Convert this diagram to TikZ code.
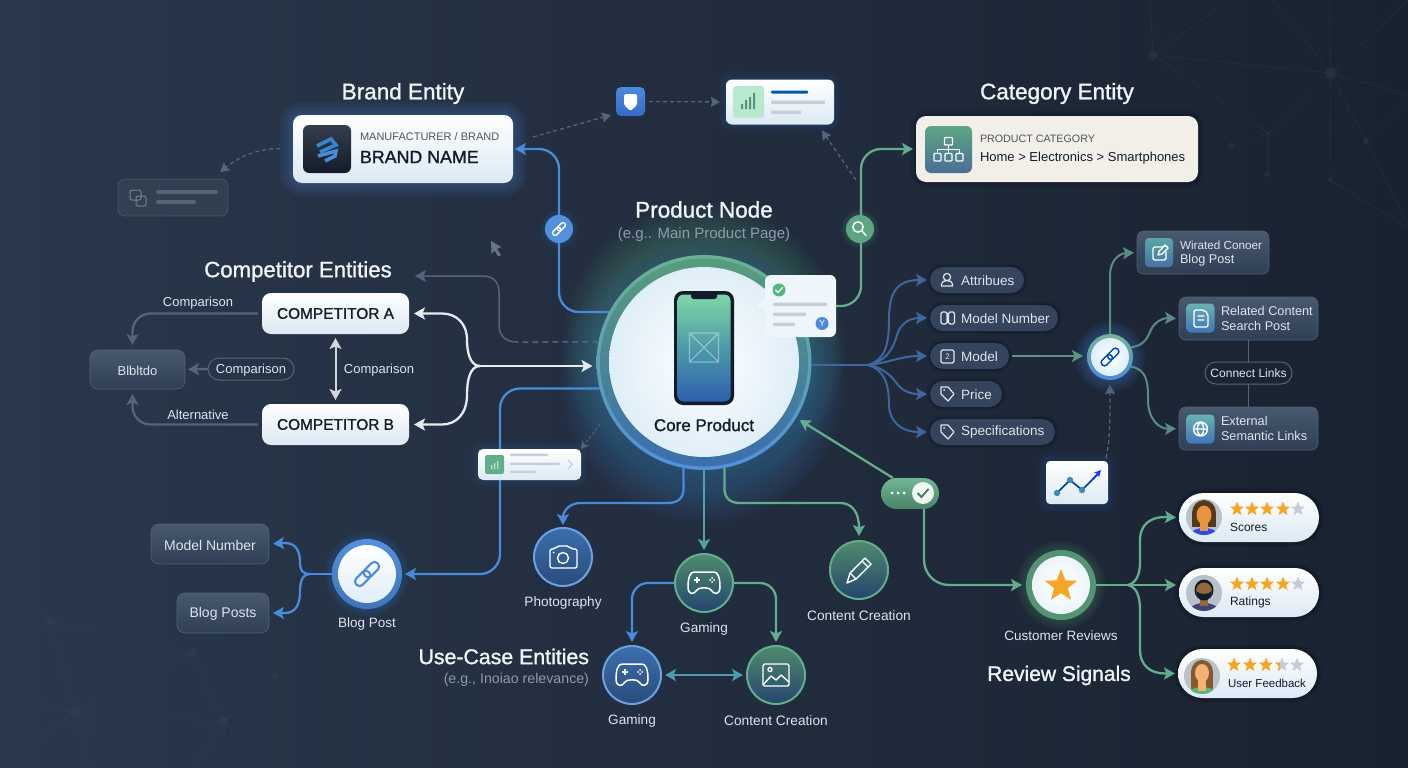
\documentclass[tikz,border=0pt]{standalone}
\usepackage{fontspec}
\setmainfont{Liberation Sans}
\newfontfamily\medf[FakeBold=1.3]{Liberation Sans}
\usetikzlibrary{arrows.meta,calc}
\pgfdeclarelayer{netl}\pgfdeclarelayer{glowl}\pgfdeclarelayer{lines}
\pgfsetlayers{netl,glowl,lines,main}
\newcommand\fs[1]{\fontsize{#1}{#1}\selectfont}
\definecolor{bgL}{HTML}{2A384C}\definecolor{bgM}{HTML}{1F2A3A}\definecolor{bgR}{HTML}{192230}
\definecolor{netc}{HTML}{3A4859}
\definecolor{ttl}{HTML}{F0F4F8}\definecolor{sub}{HTML}{8E9BAC}\definecolor{lbl}{HTML}{DDE5EE}
\definecolor{cblue}{HTML}{4A8ADB}\definecolor{cfan}{HTML}{3F669F}\definecolor{cgreen}{HTML}{62AE8A}
\definecolor{cteal}{HTML}{4FA3A3}\definecolor{cgray}{HTML}{55647A}\definecolor{cwhite}{HTML}{E6EBF0}
\definecolor{csoft}{HTML}{5A8C84}\definecolor{ink}{HTML}{121C2A}\definecolor{pillf}{HTML}{33445C}
\definecolor{boxf}{HTML}{34465E}\definecolor{starc}{HTML}{F5A623}\definecolor{stargr}{HTML}{C3CCD8}
\definecolor{barg}{HTML}{C6CFD8}
\definecolor{cardb}{HTML}{DCE9F4}\definecolor{pale}{HTML}{DFEEF8}\definecolor{cream}{HTML}{F1EFE8}
\definecolor{phtop}{HTML}{7FD6A8}\definecolor{phmid}{HTML}{4C9AA8}\definecolor{phbot}{HTML}{2E5FB0}
\newcommand\glow[5]{\begin{pgfonlayer}{glowl}\foreach \k in {1,...,10}{%
 \pgfmathsetmacro\ee{#4*\k/10}\pgfmathsetmacro\rr{#2+\ee}%
 \fill[#3,opacity=#5,rounded corners=\rr pt] ([xshift=-\ee pt,yshift=\ee pt]#1.north west) rectangle ([xshift=\ee pt,yshift=-\ee pt]#1.south east);}\end{pgfonlayer}}
\newcommand\glowc[5]{\begin{pgfonlayer}{glowl}\foreach \k in {1,...,12}{%
 \pgfmathsetmacro\rr{#2+#4*\k/12}%
 \fill[#3,opacity=#5] (#1) circle[radius=\rr];}\end{pgfonlayer}}
\newcommand\starS[4]{\begin{scope}[shift={(#1,#2)},scale=#3]\fill[#4,rounded corners=.5pt] (0,-1)--(.26,-.33)--(.95,-.31)--(.4,.13)--(.59,.81)--(0,.42)--(-.59,.81)--(-.4,.13)--(-.95,-.31)--(-.26,-.33)--cycle;\end{scope}}
\newcommand\linkI[4]{\begin{scope}[shift={(#1,#2)},rotate=45,scale=#3]\draw[#4,rounded corners=.27*#3 pt] (-1.0,-.3) rectangle (.18,.3);\draw[#4,rounded corners=.27*#3 pt] (-.18,-.3) rectangle (1.0,.3);\end{scope}}
\newcommand\padI[3]{\begin{scope}[shift={(#1,#2)},line width=1.5pt,draw=white,line join=round]\draw (-10,-11)--(10,-11) .. controls (14,-11) and (16,-5) .. (16,4) .. controls (16,12) and (10,12) .. (7,7) .. controls (6,4) and (-6,4) .. (-7,7) .. controls (-10,12) and (-16,12) .. (-16,4) .. controls (-16,-5) and (-14,-11) .. (-10,-11)--cycle;\draw (-10,-3)--(-4,-3) (-7,-6)--(-7,0);\fill[white] (6,-3) circle[radius=1] (10,-3) circle[radius=1] (8,-5) circle[radius=1] (8,-1) circle[radius=1];\end{scope}}
\newcommand\tagI[2]{\begin{scope}[shift={(#1,#2)}]\draw[lbl,line width=1.2pt,line join=round] (-6,-7)--(1,-7)--(7,0)--(1,7)--(-6,0)--cycle;\fill[lbl] (-3,-4) circle[radius=1];\end{scope}}
\tikzset{
 x=1pt,y=-1pt,inner sep=0pt,outer sep=0pt,
 title/.style={font=\medf\fs{22.5},text=ttl,yshift=-1.5pt},
 subt/.style={font=\fs{15},text=sub,yshift=-1.5pt},
 lab/.style={font=\fs{14},text=lbl,yshift=-1.2pt},
 cardw/.style={rectangle,rounded corners=9,top color=white,bottom color=cardb},
 darkbox/.style={rectangle,rounded corners=8,top color=boxf!90!white,bottom color=boxf!90!black,draw=boxf!85!white,line width=.6pt},
 pillbox/.style={rectangle,rounded corners=13,fill=pillf,minimum height=26},
 arr/.style={-{Stealth[length=11pt,width=12pt,inset=2.5pt]},line width=#1,line join=round},
 arr/.default=2.3pt,
 darr/.style={{Stealth[length=11pt,width=12pt,inset=2.5pt]}-{Stealth[length=11pt,width=12pt,inset=2.5pt]},line width=#1},
 darr/.default=2.3pt,
 dashg/.style={cgray,dash pattern=on 4pt off 3pt,line width=1.3pt,-{Stealth[length=9pt,width=10pt,inset=1pt]}},
 wl/.style={draw=white,line width=1.4pt,line join=round,line cap=round},
}
\begin{document}
\begin{tikzpicture}
\useasboundingbox (0,0) rectangle (1408,768);
\begin{pgfonlayer}{netl}
\shade[left color=bgL,middle color=bgM,right color=bgR] (0,0) rectangle (1408,768);
\begin{scope}[netc,line width=.7pt,opacity=.28]
\draw (1150,0)--(1153,55)--(1230,0) (1153,55)--(1331,73) (1153,55)--(1269,133)--(1331,73) (1269,133)--(1231,146) (1269,133)--(1267,174)
 (1331,73)--(1273,0) (1331,73)--(1329,0) (1331,73)--(1408,0) (1331,73)--(1408,95) (1331,73)--(1366,141)--(1330,180)--(1331,73) (1366,141)--(1408,100) (1366,141)--(1408,225) (1330,180)--(1408,228);
\draw (0,585)--(50,621)--(0,636) (50,621)--(192,653)--(75,712)--(50,621) (192,653)--(223,722)--(275,676) (0,693)--(75,712)--(223,722) (75,712)--(5,768) (75,712)--(90,768) (75,712)--(140,768) (223,722)--(193,768) (223,722)--(232,768) (223,722)--(285,768);
\fill (1153,55) circle[radius=5] (1331,73) circle[radius=6] (1269,133) circle[radius=1.5] (1231,146) circle[radius=3.5] (1267,174) circle[radius=3] (1366,141) circle[radius=3] (1330,180) circle[radius=2];
\fill (50,621) circle[radius=4] (192,653) circle[radius=4.5] (275,676) circle[radius=3.5] (75,712) circle[radius=5.5] (223,722) circle[radius=5.5];
\end{scope}
\end{pgfonlayer}

% ---------- titles
\node[title] (tBrand) at (403,92) {Brand Entity};
\node[title] (tCat) at (1057,92) {Category Entity};
\node[title] (tProd) at (704,208) {Product Node};
\node[subt] (tProdS) at (704,233) {(e.g.. Main Product Page)};
\node[title,font=\medf\fs{22.2}] (tComp) at (298,270) {Competitor Entities};
\node[title,font=\medf\fs{21.3},anchor=east] (tUse) at (589,655) {Use-Case Entities};
\node[subt,font=\fs{14.2},anchor=east] (tUseS) at (589,678) {(e.g., Inoiao relevance)};
\node[title,font=\medf\fs{21}] (tRev) at (1059,674) {Review Signals};

% ---------- brand card
\node[cardw,minimum width=220,minimum height=68] (brand) at (403,149) {};
\glow{brand}{9}{cblue}{14}{.035}
\node[rectangle,rounded corners=6,top color=ink!85!white,bottom color=ink,minimum width=48,minimum height=48] (brandI) at (327,149) {};
\draw[line width=3.6pt,color=cyan!60!blue!85!white,line join=miter] (317,146)--(331,139)--(336,145)--(320,152);
\draw[line width=3.6pt,color=cblue] (318,156)--(336,151)--(335,156)--(325,161);
\node[anchor=west,font=\fs{11},text=ink!75!white] (brandA) at (360,137) {MANUFACTURER / BRAND};
\node[anchor=west,font=\medf\fs{17.8},text=ink] (brandB) at (360,157) {BRAND NAME};

% ---------- faint top-left card
\node[rectangle,rounded corners=7,fill=white,fill opacity=.05,draw=white,draw opacity=.13,line width=.8pt,minimum width=110,minimum height=37] (faint) at (173,197.5) {};
\draw[lbl,opacity=.4,line width=1pt,rounded corners=2] (130,190) rectangle (141,200) (136,196) rectangle (146,206);
\fill[lbl,opacity=.22,rounded corners=2] (156,190) rectangle (218,194) (156,200) rectangle (196,204);

% ---------- shield & stats card
\node[rectangle,rounded corners=5,top color=cblue,bottom color=cblue!85!blue!90!black,minimum width=29,minimum height=29] (shield) at (630.5,101.5) {};
\fill[white,rounded corners=1.5] (624,94)--(637,94)--(637,105)--(630.5,111)--(624,105)--cycle;
\node[cardw,rounded corners=6,minimum width=108,minimum height=45] (scard) at (780,102) {};
\glow{scard}{6}{cblue}{8}{.02}
\fill[green!35!teal!28!white,rounded corners=3] (733,86) rectangle (764,118);
\fill[cgreen!85!black] (741,109) rectangle (743,104) (745,109) rectangle (747,100) (749,109) rectangle (751,97) (753,109) rectangle (755,93);
\fill[teal!70!blue,rounded corners=1] (771,90.5) rectangle (808,93.5);
\fill[barg,rounded corners=1] (771,100.5) rectangle (825,104) (771,110.5) rectangle (801,114);

% ---------- category card
\node[rectangle,rounded corners=10,fill=cream,minimum width=282,minimum height=66] (cat) at (1057,149) {};
\glow{cat}{10}{black}{6}{.015}
\node[rectangle,rounded corners=6,top color=cgreen!95!black,bottom color=cblue!60!black!85!white,minimum width=47,minimum height=47] (catI) at (948.5,149.5) {};
\begin{scope}[wl,line width=1.2pt,rounded corners=.8]
\draw (944.5,137.5) rectangle (952.5,145) (934,153.5) rectangle (941,161) (945,153.5) rectangle (952,161) (956,153.5) rectangle (963,161);
\draw[sharp corners] (948.5,145)--(948.5,153.5) (937.5,153.5)--(937.5,149.5)--(959.5,149.5)--(959.5,153.5);
\end{scope}
\node[anchor=west,font=\fs{10.7},text=ink!75!white] (catA) at (980,139) {PRODUCT CATEGORY};
\node[anchor=west,font=\fs{13},text=ink] (catB) at (980,158) {Home > Electronics > Smartphones};

% ---------- link badges
\node[circle,fill=cblue!95!white,minimum size=28] (badgeL) at (559,229) {};
\linkI{559}{229}{8}{wl,line width=1.3pt}
\glowc{badgeL.center}{14}{cblue}{6}{.02}
\node[circle,fill=cgreen!95!black,minimum size=28] (badgeS) at (860,229) {};
\draw[wl] (858,227) circle[radius=5.2] (862,231)--(866,235.5);
\glowc{badgeS.center}{14}{cgreen}{6}{.02}

% ---------- core
\coordinate (gtop) at (704,345);
\coordinate (gbot) at (704,380);
\glowc{gtop}{107}{cgreen}{34}{.028}
\glowc{gbot}{107}{cblue}{36}{.028}
\node[circle,top color=cgreen!95!white,bottom color=cblue!95!white,minimum size=215] (core) at (704,362.5) {};
\node[circle,top color=cgreen!90!black,bottom color=cblue!80!black,minimum size=208] (coreB) at (704,362.5) {};
\node[circle,inner color=white,outer color=pale,minimum size=190] (coreW) at (704,362) {};
\node[rectangle,rounded corners=9,fill=ink,minimum width=60,minimum height=114] (phone) at (704,348) {};
\node[rectangle,rounded corners=6,top color=phtop,bottom color=phbot,middle color=phmid,minimum width=53,minimum height=107] (screen) at (704,348) {};
\fill[ink,rounded corners=2.5] (691,291) rectangle (717,299);
\draw[white,opacity=.38,line width=1.2pt] (689.5,333) rectangle (718.5,362) (689.5,333)--(718.5,362) (718.5,333)--(689.5,362);
\node[font=\medf\fs{17},text=ink] (coreT) at (704,425) {Core Product};

% popup
\fill[pale!50!white] (766,298)--(757,306)--(768,312)--cycle;
\node[rectangle,rounded corners=6,fill=pale!50!white,minimum width=71,minimum height=62] (popup) at (800.5,306) {};
\node[circle,fill=cgreen!90!green,minimum size=13] (pcheck) at (779,290) {};
\draw[wl,line width=1.2pt] (775.5,290)--(778,292.5)--(782.5,287.5);
\fill[barg,rounded corners=1] (773,302.5) rectangle (827,306) (773,312.5) rectangle (806,316) (773,322.5) rectangle (795,326);
\node[circle,fill=cblue,minimum size=13,text=white,font=\fs{9}] (pv) at (822,323.5) {Y};

% ---------- competitors
\node[cardw,minimum width=147,minimum height=41] (compA) at (335.5,313.5) {};
\node[cardw,minimum width=147,minimum height=41] (compB) at (335.5,424.5) {};
\node[font=\medf\fs{15.4},text=ink] at (compA) (compAt) {COMPETITOR A};
\node[font=\medf\fs{15.4},text=ink] at (compB) (compBt) {COMPETITOR B};
\node[darkbox,minimum width=95,minimum height=39] (blbl) at (137.5,369.5) {};
\node[lab,font=\fs{13}] at (blbl) (blblt) {Blbltdo};
\node[rectangle,rounded corners=11,draw=cgray,line width=1pt,minimum width=86,minimum height=22] (cpill) at (251,369) {};
\node[lab,font=\fs{13}] at (cpill) (cpillt) {Comparison};
\node[lab,font=\fs{13}] (lc1) at (198,302) {Comparison};
\node[lab,font=\fs{13}] (lc2) at (379,369) {Comparison};
\node[lab,font=\fs{13}] (la1) at (198,414) {Alternative};

% ---------- small card below core
\node[cardw,rounded corners=5,minimum width=103,minimum height=31] (mini) at (529.5,464.5) {};
\glow{mini}{5}{cblue}{7}{.02}
\fill[cgreen,rounded corners=2] (485,455) rectangle (504,474);
\fill[white,opacity=.6] (491,469) rectangle (492.3,465) (494,469) rectangle (495.3,463) (497,469) rectangle (498.3,461);
\fill[barg,rounded corners=.8] (510,453.5) rectangle (548,456) (510,462.5) rectangle (560,465) (510,470.5) rectangle (536,473);
\draw[barg,line width=1.2pt] (568,460)--(572,464.5)--(568,469);

% ---------- blog post
\node[circle,top color=cblue!95!white,bottom color=cblue!85!black,minimum size=70] (blogc) at (367,574) {};
\glowc{blogc.center}{35}{cblue}{8}{.025}
\node[circle,top color=white,bottom color=pale,minimum size=58] (blogW) at (367,574) {};
\linkI{367}{574}{15}{cblue,line width=2pt}
\node[lab,font=\fs{13.5}] (blogT) at (367,623) {Blog Post};
\node[darkbox,minimum width=118,minimum height=40] (mnb) at (210,544) {};
\node[lab] at (mnb) (mnbt) {Model Number};
\node[darkbox,minimum width=92,minimum height=40] (bpb) at (223,613) {};
\node[lab] at (bpb) (bpbt) {Blog Posts};

% ---------- use-case circles
\node[circle,top color=cblue!80!black,bottom color=cblue!55!black,draw=cblue!80!white,line width=2pt,minimum size=58] (photo) at (563,557) {};
\node[lab,font=\fs{13.6}] (photoT) at (563,602) {Photography};
\begin{scope}[wl]
\draw[rounded corners=2] (550,549)--(555,549)--(557,546)--(569,546)--(571,549)--(577,549)--(577,568)--(550,568)--cycle;
\draw (563,558) circle[radius=5.5];
\end{scope}
\fill[white] (553.5,552.5) circle[radius=1];
\node[circle,top color=cgreen!80!black,bottom color=cblue!50!black,draw=cgreen,line width=2pt,minimum size=58] (game1) at (704,583) {};
\padI{704}{583}{}
\node[lab,font=\fs{13.6}] (game1T) at (704,628) {Gaming};
\node[circle,top color=cgreen!80!black,bottom color=cblue!50!black,draw=cgreen,line width=2pt,minimum size=58] (cc1) at (859,570) {};
\begin{scope}[wl]
\draw (847,583)--(850,573)--(865,558)--(871,564)--(856,579)--cycle (862,561)--(868,567) (850,573)--(856,579);
\end{scope}
\node[lab,font=\fs{13.7}] (cc1T) at (859,614) {Content Creation};
\node[circle,top color=cblue!80!black,bottom color=cblue!55!black,draw=cblue!80!white,line width=2pt,minimum size=58] (game2) at (632,675) {};
\padI{632}{675}{}
\node[lab,font=\fs{13.6}] (game2T) at (632,720) {Gaming};
\node[circle,top color=cgreen!80!black,bottom color=cblue!50!black,draw=cgreen,line width=2pt,minimum size=58] (cc2) at (776,675) {};
\begin{scope}[wl]
\draw[rounded corners=1.5] (763,664) rectangle (789,686);
\draw (763,685)--(771,676)--(776,680)--(781,675)--(789,682);
\draw (770,669.5) circle[radius=2];
\end{scope}
\node[lab,font=\fs{13.7}] (cc2T) at (776,719) {Content Creation};

% ---------- attribute pills
\node[pillbox,anchor=west,minimum width=94] (attr) at (930,280) {};
\node[pillbox,anchor=west,minimum width=128] (mnum) at (930,318) {};
\node[pillbox,anchor=west,minimum width=79] (model) at (930,356) {};
\node[pillbox,anchor=west,minimum width=72] (price) at (930,394) {};
\node[pillbox,anchor=west,minimum width=125] (spec) at (930,432) {};
\foreach \n/\t in {attr/Attribues,mnum/Model Number,model/Model,price/Price,spec/Specifications}{
 \node[lab,font=\fs{13.5},anchor=west,yshift=.8pt] (\n T) at ([xshift=31pt]\n.west) {\t};
 \glow{\n}{13}{black}{4}{.012}
}
\draw[lbl,line width=1.2pt] (947,277) circle[radius=3.6] (941.5,286)--(941.5,284) .. controls (941.5,279.5) and (952.5,279.5) .. (952.5,284)--(952.5,286)--cycle;
\draw[lbl,line width=1.1pt,rounded corners=1.5] (941,312) rectangle (947,324) (948.5,312) rectangle (954.5,324);
\draw[lbl,line width=1.1pt,rounded corners=1.5] (941,350) rectangle (954,363);
\node[font=\fs{8},text=lbl] (modelQ) at (947.5,356.5) {2};
\tagI{947}{394}
\tagI{947}{432}

% ---------- link hub
\coordinate (hubc) at (1110,357);
\glowc{hubc}{23}{cblue}{13}{.03}
\node[circle,top color=cgreen!90!white,bottom color=cblue,minimum size=46] (linkn) at (1110,357) {};
\node[circle,inner color=white,outer color=pale,minimum size=38] (linkW) at (1110,357) {};
\linkI{1110}{357}{11}{teal!60!blue,line width=1.5pt}

% ---------- right boxes
\node[darkbox,rounded corners=7,minimum width=132,minimum height=43] (wir) at (1203,252.5) {};
\node[darkbox,rounded corners=7,minimum width=139,minimum height=43] (rel) at (1248.5,318.5) {};
\node[darkbox,rounded corners=7,minimum width=139,minimum height=43] (ext) at (1248.5,428.5) {};
\node[rectangle,rounded corners=4,top color=cteal!95!white,bottom color=cblue!70!black!90!white,minimum width=28,minimum height=29] (wirI) at (1159,252.5) {};
\node[rectangle,rounded corners=4,top color=cteal!85!white,bottom color=cblue!85!black,minimum width=28,minimum height=29] (relI) at (1200.5,318) {};
\node[rectangle,rounded corners=4,top color=cteal!85!white,bottom color=cblue!85!black,minimum width=28,minimum height=29] (extI) at (1200.5,429) {};
\draw[wl,rounded corners=2] (1163,247)--(1153,247)--(1153,260)--(1166,260)--(1166,252);
\draw[wl] (1158,255)--(1159,251.5)--(1165,245)--(1168,248)--(1162,254)--cycle;
\draw[wl,rounded corners=2] (1194,310)--(1204,310)--(1208,314)--(1208,327)--(1194,327)--cycle (1198,316)--(1204,316) (1198,320)--(1204,320);
\draw[wl] (1200.5,429) circle[radius=7] (1193.5,429)--(1207.5,429) (1200.5,422) .. controls (1196,426) and (1196,432) .. (1200.5,436) .. controls (1205,432) and (1205,426) .. (1200.5,422);
\node[font=\fs{11.7},text=lbl,anchor=west] (wirA) at (1180,245) {Wirated Conoer};
\node[font=\fs{12.7},text=lbl,anchor=west] (wirB) at (1180,260) {Blog Post};
\node[font=\fs{12.7},text=lbl,anchor=west] (relA) at (1221,311) {Related Content};
\node[font=\fs{12.7},text=lbl,anchor=west] (relB) at (1221,326) {Search Post};
\node[font=\fs{12.7},text=lbl,anchor=west] (extA) at (1221,421) {External};
\node[font=\fs{12.7},text=lbl,anchor=west] (extB) at (1221,436) {Semantic Links};
\node[rectangle,rounded corners=11,fill=bgR!70!bgM,draw=cgray,line width=1pt,minimum width=87,minimum height=22] (conn) at (1248.5,373) {};
\node[font=\fs{12},text=lbl] at (conn) (connT) {Connect Links};

% ---------- chart card
\node[cardw,rounded corners=4,minimum width=62,minimum height=43] (chart) at (1077,482.5) {};
\glow{chart}{4}{cblue}{10}{.02}
\draw[line width=1.6pt,teal!50!blue!85!black] (1057,493)--(1070,480)--(1082,490)--(1098,474);
\draw[line width=1.7pt,blue!60!cblue,-{Stealth[length=7pt,width=7pt]}] (1092,480)--(1101,470);
\fill[cteal!85!blue] (1057,493) circle[radius=3.2] (1070,480) circle[radius=3.2] (1082,490) circle[radius=3.2];

% ---------- switch
\node[rectangle,rounded corners=15.5,top color=cgreen!90!white,bottom color=cgreen!75!black,minimum width=58,minimum height=31] (switch) at (910,493.5) {};
\fill[white] (892,493) circle[radius=1.5] (898,493) circle[radius=1.5] (904,493) circle[radius=1.5];
\node[circle,fill=white!90!cgreen,minimum size=22] (swk) at (923,493) {};
\draw[cgreen!70!black,line width=1.8pt] (917.5,493)--(921.5,497)--(928.5,489);

% ---------- customer reviews
\node[circle,fill=cgreen!85!black,minimum size=70] (revc) at (1061,585) {};
\glowc{revc.center}{35}{cgreen}{10}{.025}
\node[circle,inner color=white,outer color=pale!60!white,minimum size=58] (revW) at (1061,585) {};
\starS{1061}{586}{17}{starc}
\node[lab,font=\fs{13.5}] (revT) at (1061,634) {Customer Reviews};
\node[rectangle,rounded corners=24.5,top color=white,bottom color=cardb,minimum width=140,minimum height=49] (scores) at (1249,517.5) {};
\node[rectangle,rounded corners=24.5,top color=white,bottom color=cardb,minimum width=140,minimum height=49] (ratings) at (1249,592.5) {};
\node[rectangle,rounded corners=24.5,top color=white,bottom color=cardb,minimum width=139,minimum height=49] (feedb) at (1247.5,673.5) {};
\foreach \n in {scores,ratings,feedb}{\glow{\n}{24}{black}{5}{.015}}
\node[anchor=west,font=\fs{12},text=ink] (scoresT) at (1230,527) {Scores};
\node[anchor=west,font=\fs{12},text=ink] (ratingsT) at (1230,602) {Ratings};
\node[anchor=west,font=\fs{11.5},text=ink] (feedbT) at (1228,683) {User Feedback};
\foreach \x in {1237,1252,1267,1283}{\starS{\x}{509}{7.5}{starc}\starS{\x}{584}{7.5}{starc}}
\starS{1298}{509}{7.5}{stargr}\starS{1298}{584}{7.5}{stargr}
\foreach \x in {1234,1250,1266}{\starS{\x}{665}{7.5}{starc}}
\starS{1282}{665}{7.5}{stargr}\starS{1297}{665}{7.5}{stargr}
\begin{scope}\clip (1274,655) rectangle (1280,675);\starS{1282}{665}{7.5}{starc}\end{scope}
% avatars
\begin{scope}\clip (1204,517) circle[radius=18];
\fill[stargr!85!gray] (1186,499) rectangle (1222,535);
\fill[brown!45!black] (1204,513) ellipse[x radius=12,y radius=13];
\fill[brown!45!black] (1192,513) rectangle (1216,527);
\fill[blue!45!cblue] (1204,538) ellipse[x radius=16,y radius=10];
\fill[orange!55!brown!85!white] (1200,522) rectangle (1208,531);
\fill[orange!55!brown!85!white] (1204,515) ellipse[x radius=7.5,y radius=9.5];
\end{scope}
\begin{scope}\clip (1204,593) circle[radius=18];
\fill[stargr!85!gray] (1186,575) rectangle (1222,611);
\fill[ink!80!blue!80!white] (1204,614) ellipse[x radius=17,y radius=11];
\fill[brown!75!black!95!white] (1200,596) rectangle (1208,606);
\fill[ink] (1204,590) ellipse[x radius=9.5,y radius=10.5];
\fill[brown!75!black!95!white] (1204,591) ellipse[x radius=8,y radius=8.5];
\fill[ink] (1196,591) .. controls (1197,603) and (1211,603) .. (1212,591) .. controls (1208,595) and (1200,595) .. (1196,591);
\end{scope}
\begin{scope}\clip (1202,676) circle[radius=18];
\fill[stargr!85!gray] (1184,658) rectangle (1220,694);
\fill[brown!70!black] (1202,672) ellipse[x radius=11,y radius=12];
\fill[brown!70!black] (1191,672) rectangle (1213,689);
\fill[cgreen!90!green] (1202,697) ellipse[x radius=16,y radius=10];
\fill[orange!65!brown!60!white] (1198,680) rectangle (1206,691);
\fill[orange!65!brown!60!white] (1202,673) ellipse[x radius=7,y radius=9];
\end{scope}

% cursor
\fill[cgray!90!white] (491,241)--(501.5,247)--(497,249)--(501,255)--(498,256.5)--(494.5,250.5)--(491.5,254)--cycle;

% ---------- connectors
\coordinate (wfork) at (480,366);
\coordinate (bfork) at (310,574);
\coordinate (fan) at (868,365);
\coordinate (gt) at (415,276);
\coordinate (fz) at (220,172);
\coordinate (gd) at (856,180);
\coordinate (grayend) at (517,342);
\coordinate (rfork) at (1128,585);
\begin{pgfonlayer}{lines}
\draw[arr,cblue,rounded corners=20,shorten >=2pt] (core.152) -| ($(brand.east)+(46,0)$) -- (brand.east);
\draw[arr,cgreen,rounded corners=20,shorten >=3pt] (popup.east) -| ($(cat.west)+(-55,0)$) -- (cat.west);
\draw[dashg,shorten <=13pt,shorten >=0pt] (brand.west) .. controls (255,148) and (235,160) .. (fz);
\draw[dashg] ([xshift=20pt,yshift=12pt]brand.east) -- ([xshift=-5pt,yshift=1pt]shield.south west);
\draw[dashg,shorten <=4pt,shorten >=6pt] (shield.east) -- (scard.west);
\draw[dashg] (gd) -- ([xshift=-12pt,yshift=-6pt]scard.south east);
% competitors
\draw[arr,cwhite,shorten >=4pt] (wfork) -- (core.west |- wfork);
\draw[arr,cwhite,shorten >=5pt] (wfork) .. controls (470,366) and (467,352) .. (467,340) .. controls (467,323) and (456,313.5) .. (442,313.5) -- (compA.east);
\draw[arr,cwhite,shorten >=5pt] (wfork) .. controls (470,366) and (467,380) .. (467,395) .. controls (467,414) and (456,424.5) .. (442,424.5) -- (compB.east);
\draw[darr=2pt,cwhite!80!gray,shorten >=4pt,shorten <=4pt] (compA.south) -- (compB.north);
\draw[arr,cgray,rounded corners=18,shorten <=4pt,shorten >=5pt] (compA.west) -| ($(blbl.north)+(-5,0)$);
\draw[arr,cgray,rounded corners=18,shorten <=4pt,shorten >=5pt] (compB.west) -| ($(blbl.south)+(-5,0)$);
\draw[arr,cgray,shorten >=3pt] (cpill.west) -- (blbl.east);
\draw[cgray,line width=1.5pt,dash pattern=on 6pt off 4pt] (core.169) -- (grayend);
\draw[arr=1.5pt,cgray] (grayend) .. controls (505,342) and (499,335) .. (499,325) -- (499,292) .. controls (499,282) and (493,276) .. (483,276) -- (gt);
\draw[cgray,dash pattern=on 3pt off 2pt,line width=1pt,-{Stealth[length=8pt,width=9pt]}] (600,424) -- (mini.north east);
% blog
\draw[arr,cblue,rounded corners=20,shorten >=3pt] (core.194) -| ($(blogc.east)+(98,0)$) -- (blogc.east);
\draw[arr,cblue,shorten >=4pt] (bfork) .. controls (302,574) and (300,570) .. (300,562) .. controls (300,550) and (295,543) .. (285,543) -- (mnb.east);
\draw[arr,cblue,shorten >=4pt] (bfork) .. controls (302,574) and (300,582) .. (300,592) .. controls (300,605) and (295,613) .. (285,613) -- (bpb.east);
\draw[line width=2.3pt,cblue] (blogc.west) -- (bfork);
% use cases
\draw[arr,cblue,shorten >=3pt] (core.259) -- (683.6,488) .. controls (683.6,498) and (678,503) .. (668,503) -- (580,503) .. controls (570,503) and (563,511) .. (photo.north);
\draw[arr,cteal,shorten >=4pt] (core.south) -- (game1.north);
\draw[arr,cgreen,shorten >=5pt] (core.281) -- (724.4,488) .. controls (724.4,498) and (730,503) .. (740,503) -- (840,503) .. controls (852,503) and (859,512) .. (cc1.north);
\draw[arr,cblue,rounded corners=16,shorten >=4pt] (game1.west) -| (game2.north);
\draw[arr,cgreen,rounded corners=16,shorten >=4pt] (game1.east) -| (cc2.north);
\draw[darr,cteal!70!cblue,shorten <=4pt,shorten >=4pt] (game2.east) -- (cc2.west);
% fan
\draw[line width=2pt,cfan] (core.east |- fan) -- (fan);
\draw[arr=2pt,cfan,shorten >=3pt] (fan) .. controls (885,360) and (889,345) .. (889,320) .. controls (889,295) and (895,280) .. (attr.west);
\draw[arr=2pt,cfan,shorten >=3pt] (fan) .. controls (885,362) and (893,350) .. (897,335) .. controls (900,325) and (908,318) .. (mnum.west);
\draw[arr=2pt,cfan,shorten >=3pt] (fan) .. controls (885,364) and (900,356) .. (model.west);
\draw[arr=2pt,cfan,shorten >=3pt] (fan) .. controls (885,368) and (893,378) .. (898,385) .. controls (903,391) and (910,394) .. (price.west);
\draw[arr=2pt,cfan,shorten >=3pt] (fan) .. controls (885,370) and (889,385) .. (889,405) .. controls (889,420) and (900,432) .. (spec.west);
% hub
\draw[arr=2pt,csoft!80!cgreen,shorten <=3pt,shorten >=4pt] (model.east) -- (linkn.west |- model.east);
\draw[arr=2pt,csoft,shorten >=3pt] (linkn.north) -- (1110,275) .. controls (1110,262) and (1118,253) .. (1127,253) -- (wir.west);
\draw[arr=2pt,csoft,shorten >=3pt] (linkn.25) .. controls (1150,345) and (1148,330) .. (1155,324) .. controls (1160,319) and (1165,318) .. (rel.west);
\draw[arr=2pt,csoft,shorten >=3pt] (linkn.-25) .. controls (1148,369) and (1148,385) .. (1148,400) .. controls (1148,420) and (1160,429) .. (ext.west);
\draw[dashg,shorten >=5pt] ([xshift=-2pt,yshift=3pt]chart.north east) .. controls (1110,440) and (1110,420) .. (linkn.south);
\draw[line width=1.5pt,cgray] (rel.south) -- (ext.north);
% switch and reviews
\draw[arr,cgreen,shorten >=4pt] ([xshift=-17pt]switch.north) -- (core.-31);
\draw[arr,cgreen,rounded corners=25,shorten >=4pt] ([xshift=14pt]switch.south) |- (revc.west);
\draw[arr,cgreen,shorten >=3pt] (revc.east) -- (ratings.west |- revc.center);
\draw[arr,cgreen,shorten >=3pt] (rfork) .. controls (1136,583) and (1140,575) .. (1140,562) -- (1140,540) .. controls (1140,525) and (1150,517) .. (1165,517) -- (scores.west);
\draw[arr,cgreen,shorten >=3pt] (rfork) .. controls (1136,587) and (1140,595) .. (1140,610) -- (1140,650) .. controls (1140,665) and (1150,673.5) .. (1165,673.5) -- (feedb.west);
\end{pgfonlayer}
\end{tikzpicture}
\end{document}
